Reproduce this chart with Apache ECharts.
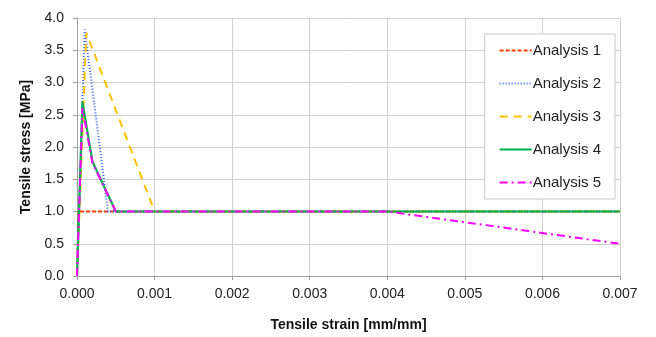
<!DOCTYPE html>
<html>
<head>
<meta charset="utf-8">
<script src="https://cdn.jsdelivr.net/npm/echarts@6/dist/echarts.min.js"></script>
<style>
  html, body { margin: 0; padding: 0; background: #fff; }
  #chart { width: 656px; height: 337px; }
</style>
</head>
<body>
<div id="chart"></div>
<script>
// strain [mm/mm] / stress [MPa]
const names = ["Analysis 1", "Analysis 2", "Analysis 3", "Analysis 4", "Analysis 5"];
const strain1 = [0, 0.00002, 0.007];
const stress1 = [0, 1.0, 1.0];
const strain2 = [0, 0.0001, 0.0004, 0.007];
const stress2 = [0, 3.82, 1.0, 1.0];
const strain3 = [0, 0.00012, 0.001, 0.007];
const stress3 = [0, 3.77, 1.0, 1.0];
const strain4 = [0, 0.00007, 0.0002, 0.0005, 0.007];
const stress4 = [0, 2.7, 1.77, 1.0, 1.0];
const strain5 = [0, 0.00007, 0.0002, 0.0005, 0.004, 0.007];
const stress5 = [0, 2.6, 1.75, 1.0, 1.0, 0.5];

const pairs = (xs, ys) => xs.map((x, i) => [x, ys[i]]);

const styles = [
  { color: "#ff4000", type: [4, 2], width: 2 },
  { color: "#3366ff", type: [1, 2], width: 2 },
  { color: "#ffc000", type: [8, 6], width: 2 },
  { color: "#00b050", type: "solid", width: 2.2 },
  { color: "#ff00ff", type: [8, 4, 2, 4], width: 2 },
];
const seriesData = [
  pairs(strain1, stress1),
  pairs(strain2, stress2),
  pairs(strain3, stress3),
  pairs(strain4, stress4),
  pairs(strain5, stress5),
];

const chart = echarts.init(document.getElementById("chart"));
chart.setOption({
  animation: false,
  textStyle: { fontFamily: "Liberation Sans, Arial, sans-serif" },
  grid: { left: 77, right: 36, top: 18, bottom: 57 },
  legend: {
    orient: "vertical",
    right: 41,
    top: 34,
    padding: [9, 14, 9, 14],
    itemWidth: 32,
    itemHeight: 14,
    itemGap: 18,
    backgroundColor: "#fff",
    borderColor: "#c8c8c8",
    borderWidth: 1,
    itemStyle: { opacity: 0 },
    textStyle: { fontSize: 15, color: "#222", padding: [0, 0, 0, -4] },
    data: names,
  },
  xAxis: {
    type: "value",
    min: 0,
    max: 0.007,
    interval: 0.001,
    name: "Tensile strain [mm/mm]",
    nameLocation: "middle",
    nameGap: 42,
    nameTextStyle: { fontWeight: "bold", fontSize: 14, color: "#111" },
    axisLine: { show: true, lineStyle: { color: "#a0a0a0" } },
    axisTick: { show: true, length: 4, lineStyle: { color: "#a0a0a0" } },
    axisLabel: { color: "#222", fontSize: 14, margin: 11, formatter: v => v.toFixed(3) },
    splitLine: { show: true, lineStyle: { color: "#d0d0d0" } },
  },
  yAxis: {
    type: "value",
    min: 0,
    max: 4,
    interval: 0.5,
    name: "Tensile stress [MPa]",
    nameLocation: "middle",
    nameGap: 42,
    nameTextStyle: { fontWeight: "bold", fontSize: 14, color: "#111" },
    axisLine: { show: true, lineStyle: { color: "#a0a0a0" } },
    axisTick: { show: true, length: 4, lineStyle: { color: "#a0a0a0" } },
    axisLabel: { color: "#222", fontSize: 14, margin: 13, formatter: v => v.toFixed(1) },
    splitLine: { show: true, lineStyle: { color: "#d0d0d0" } },
  },
  series: names.map((n, i) => ({
    name: n,
    type: "line",
    symbol: "none",
    data: seriesData[i],
    color: styles[i].color,
    lineStyle: styles[i],
  })),
});
</script>
</body>
</html>
